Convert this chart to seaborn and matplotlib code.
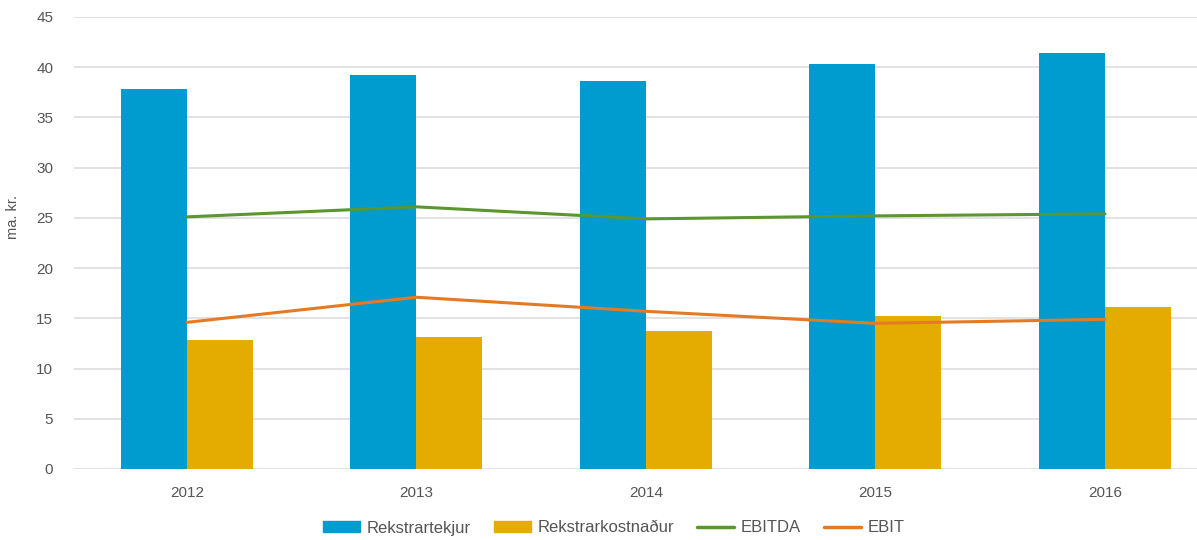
import pandas as pd
import seaborn as sns
import matplotlib.pyplot as plt
from matplotlib.patches import Patch
from matplotlib.lines import Line2D

years = ["2012", "2013", "2014", "2015", "2016"]
rekstrartekjur = [37.8, 39.2, 38.6, 40.3, 41.4]
rekstrarkostnadur = [12.85, 13.15, 13.75, 15.2, 16.1]
ebitda = [25.1, 26.1, 24.9, 25.2, 25.4]
ebit = [14.6, 17.1, 15.7, 14.5, 14.9]

bar_names = ["Rekstrartekjur", "Rekstrarkostnaður"]
line_names = ["EBITDA", "EBIT"]
colors = {"Rekstrartekjur": "#009CCF", "Rekstrarkostnaður": "#E5AC00",
          "EBITDA": "#5B9632", "EBIT": "#E57A24"}

df_bars = pd.DataFrame({
    "Ár": years * 2,
    "Liður": [bar_names[0]] * 5 + [bar_names[1]] * 5,
    "Upphæð": rekstrartekjur + rekstrarkostnadur,
})
df_lines = pd.DataFrame({
    "Ár": years * 2,
    "Liður": [line_names[0]] * 5 + [line_names[1]] * 5,
    "Upphæð": ebitda + ebit,
})

sns.set_style("white")
plt.rcParams['font.family'] = ['Liberation Sans', 'DejaVu Sans']

fig = plt.figure(figsize=(11.97, 5.4), dpi=100)
ax = fig.add_axes([74 / 1197, 71 / 540, 1 - 74 / 1197, 452 / 540])

sns.barplot(data=df_bars, x="Ár", y="Upphæð", hue="Liður", order=years,
            hue_order=bar_names, palette=colors, width=0.575, saturation=1,
            errorbar=None, legend=False, ax=ax, zorder=2, linewidth=0)
sns.pointplot(data=df_lines, x="Ár", y="Upphæð", hue="Liður", order=years,
              hue_order=line_names, palette=colors, markers="", linestyles="-",
              errorbar=None, dodge=False, legend=False, ax=ax,
              linewidth=2.2, zorder=3)

ax.set_ylim(0, 45)
ax.set_yticks(range(0, 50, 5))
ax.set_xlim(-0.492, 4.401)
ax.grid(axis="y", color="#DDDDDD", linewidth=1.2, zorder=0)
ax.set_axisbelow(True)
for s in ax.spines.values():
    s.set_visible(False)
ax.tick_params(axis="both", length=0, labelsize=11, labelcolor="#555555")
ax.tick_params(axis="x", pad=12)
ax.tick_params(axis="y", pad=15)
ax.set_xlabel("")
ax.set_ylabel("ma. kr.", fontsize=10.5, color="#555555")
ax.yaxis.set_label_coords((20 - 74) / 1123, (469 - 217) / 452)

handles = [
    Patch(color=colors["Rekstrartekjur"], label="Rekstrartekjur"),
    Patch(color=colors["Rekstrarkostnaður"], label="Rekstrarkostnaður"),
    Line2D([], [], color=colors["EBITDA"], lw=2.5, label="EBITDA"),
    Line2D([], [], color=colors["EBIT"], lw=2.5, label="EBIT"),
]
leg = fig.legend(handles=handles, loc="center", bbox_to_anchor=(614 / 1197, 1 - 528 / 540),
                 ncol=4, frameon=False, fontsize=12, handlelength=2.2, handleheight=0.6,
                 columnspacing=1.4, handletextpad=0.4)
for t in leg.get_texts():
    t.set_color("#555555")

fig.savefig("out.png", dpi=100)
